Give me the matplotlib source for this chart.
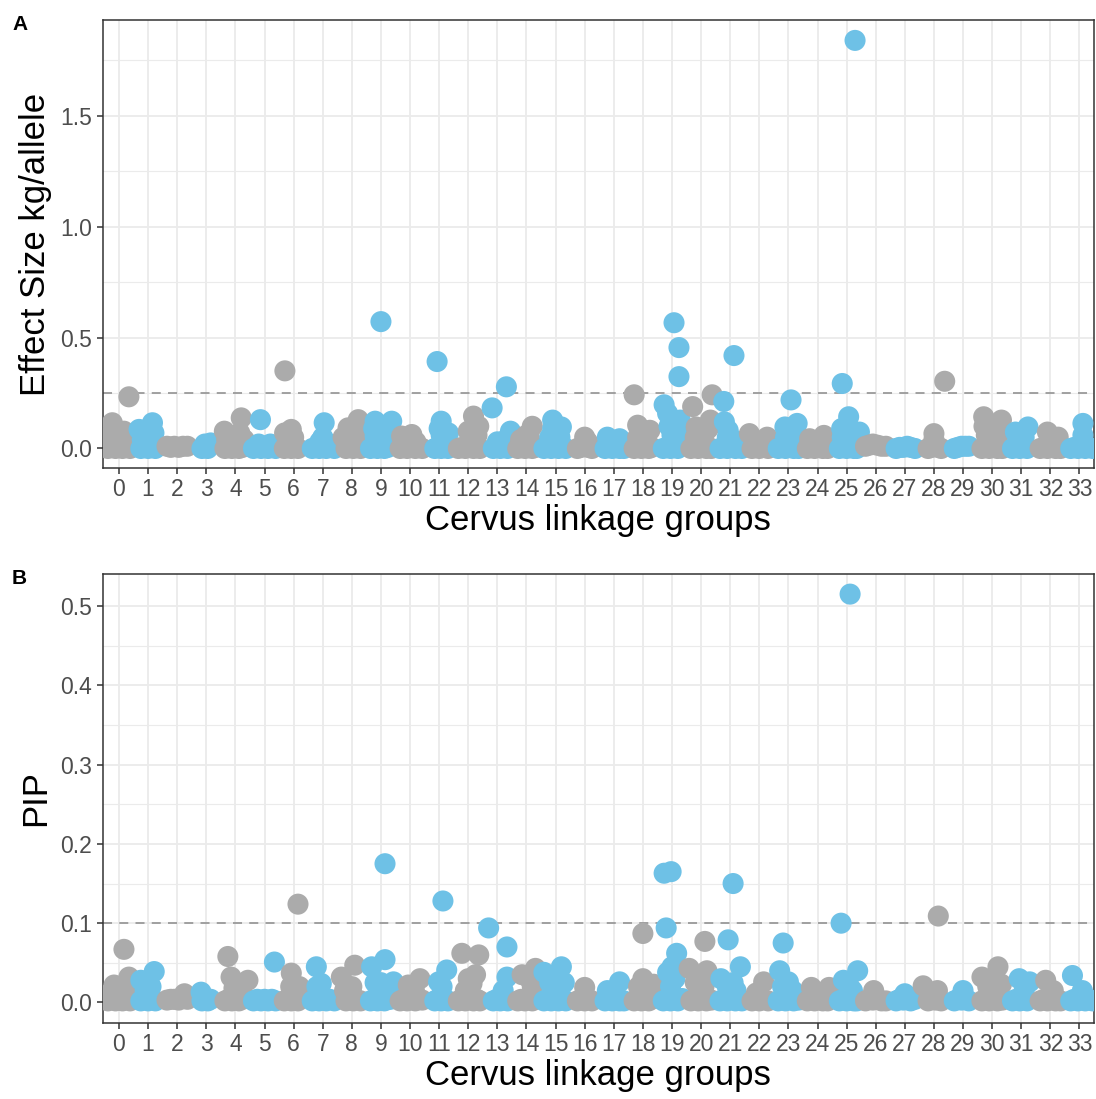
import matplotlib.pyplot as plt
from matplotlib.ticker import MultipleLocator

plt.rcParams['font.family'] = ['Liberation Sans', 'DejaVu Sans']

groups = list(range(34))
grey = '#ABABAB'
blue = '#6EC1E6'

# effect size per linkage group: (position inside group, kg/allele)
effect = [
    [(-0.38, 0), (-0.25, 0.005), (-0.12, 0), (0, 0.01), (0.12, 0), (0.25, 0.005), (0.38, 0),
     (-0.3, 0.04), (-0.25, 0.07), (0.1, 0.04), (0.25, 0.03), (-0.23, 0.116), (0.17, 0.078), (0.34, 0.233)],
    [(-0.25, 0), (-0.12, 0.005), (0, 0), (0.12, 0.01), (0.25, 0),
     (-0.2, 0.04), (0.1, 0.05), (0.2, 0.07), (0.15, 0.116), (-0.31, 0.086)],
    [(-0.35, 0.01), (-0.22, 0.005), (-0.1, 0.01), (0.05, 0.005), (0.2, 0.01), (0.35, 0.01)],
    [(-0.15, 0), (-0.05, 0.02), (0.05, 0), (0.15, 0.025)],
    [(-0.36, 0), (-0.24, 0.005), (-0.12, 0), (0, 0.01), (0.12, 0), (0.24, 0.005), (0.32, 0.01),
     (-0.3, 0.04), (0, 0.04), (0.15, 0.07), (0.3, 0.04), (0.2, 0.138), (-0.38, 0.078)],
    [(-0.38, 0), (-0.25, 0.005), (-0.12, 0), (0, 0.01), (0.12, 0), (0.25, 0.005), (0.38, 0),
     (0.2, 0.02), (-0.2, 0.02), (-0.14, 0.13)],
    [(-0.32, 0), (-0.2, 0.005), (-0.08, 0), (0.05, 0.01), (0.15, 0),
     (-0.2, 0.04), (0, 0.05), (-0.08, 0.086), (-0.31, 0.07), (-0.3, 0.35)],
    [(-0.36, 0), (-0.24, 0.005), (-0.12, 0), (0, 0.01), (0.12, 0), (0.24, 0.005), (0.4, 0),
     (0, 0.05), (-0.1, 0.03), (0.1, 0.03), (0.05, 0.116)],
    [(-0.2, 0), (-0.08, 0.005), (0.05, 0), (0.15, 0.01), (0.3, 0),
     (-0.3, 0.05), (0.1, 0.05), (0.2, 0.08), (-0.1, 0.06), (0.22, 0.13), (-0.13, 0.093)],
    [(-0.36, 0), (-0.24, 0.005), (-0.12, 0), (0, 0.01), (0.12, 0), (0.24, 0.005), (0.32, 0.02),
     (-0.2, 0.056), (-0.25, 0.09), (0.3, 0.06), (0.1, 0.04), (-0.1, 0.04), (-0.2, 0.123), (0.37, 0.123), (0, 0.572)],
    [(-0.34, 0), (-0.22, 0.005), (-0.1, 0), (0.05, 0.01), (0.18, 0), (0.3, 0.005), (0.42, 0),
     (-0.1, 0.04), (0.06, 0.063), (-0.29, 0.056), (0.2, 0.03)],
    [(-0.15, 0), (-0.05, 0.005), (0.07, 0), (0.18, 0.01), (0.3, 0),
     (0.07, 0.06), (0, 0.09), (0.2, 0.04), (0.07, 0.123), (0.32, 0.07), (-0.07, 0.392)],
    [(-0.34, 0), (-0.22, 0.005), (-0.1, 0), (0.05, 0.01), (0.18, 0), (0.3, 0.005), (0.4, 0),
     (0.1, 0.04), (0, 0.078), (0.2, 0.1), (0.3, 0.06), (0.18, 0.146), (0.36, 0.1)],
    [(-0.14, 0), (-0.02, 0.005), (0.1, 0), (0.22, 0.01), (0.35, 0),
     (0, 0.03), (0.3, 0.04), (0.45, 0.078), (-0.18, 0.183), (0.31, 0.278)],
    [(-0.3, 0), (-0.18, 0.005), (-0.05, 0), (0.08, 0.01), (0.2, 0), (0.3, 0.005),
     (0, 0.06), (0.1, 0.05), (0.2, 0.1), (-0.2, 0.04)],
    [(-0.4, 0), (-0.28, 0.005), (-0.15, 0), (-0.02, 0.01), (0.1, 0), (0.22, 0.005), (0.35, 0),
     (0, 0.05), (-0.2, 0.05), (0.15, 0.05), (-0.1, 0.09), (-0.1, 0.128), (0.2, 0.097)],
    [(-0.25, 0), (-0.12, 0.005), (0, 0.01), (0.12, 0.005), (0.25, 0), (0, 0.051), (0.1, 0.03)],
    [(-0.3, 0), (-0.18, 0.005), (-0.05, 0), (0.08, 0.01), (0.2, 0), (0.35, 0),
     (-0.22, 0.051), (0.2, 0.044), (0, 0.03)],
    [(-0.3, 0), (-0.18, 0.005), (-0.05, 0), (0.08, 0.01), (0.2, 0), (0.3, 0.005),
     (-0.18, 0.05), (0.1, 0.05), (-0.05, 0.07), (0.24, 0.082), (-0.18, 0.105), (-0.3, 0.242)],
    [(-0.3, 0), (-0.18, 0.005), (-0.05, 0), (0.08, 0.01), (0.2, 0), (0.35, 0.02),
     (0, 0.06), (-0.1, 0.1), (0.15, 0.08), (0.25, 0.05), (0.28, 0.128), (-0.15, 0.158), (-0.27, 0.197),
     (0.24, 0.324), (0.24, 0.455), (0.07, 0.567)],
    [(-0.35, 0), (-0.22, 0.005), (-0.1, 0), (0.05, 0.01), (0.18, 0), (0.35, 0),
     (-0.2, 0.05), (0.1, 0.06), (0.25, 0.09), (0, 0.08), (-0.17, 0.097), (0.32, 0.128), (-0.29, 0.189), (0.38, 0.242)],
    [(-0.35, 0), (-0.22, 0.005), (-0.1, 0), (0.05, 0.01), (0.18, 0), (0.3, 0.005), (0.4, 0),
     (-0.1, 0.05), (0.1, 0.04), (0.2, 0.03), (-0.07, 0.082), (-0.2, 0.12), (-0.22, 0.212), (0.13, 0.419)],
    [(-0.25, 0), (-0.12, 0.005), (0, 0), (0.12, 0.01), (0.3, 0), (-0.34, 0.067), (0.27, 0.051), (0, 0.03)],
    [(-0.35, 0), (-0.22, 0.005), (-0.1, 0), (0.05, 0.01), (0.18, 0), (0.35, 0),
     (-0.1, 0.05), (0.15, 0.06), (0.25, 0.07), (-0.12, 0.097), (0.3, 0.113), (0.09, 0.219)],
    [(-0.35, 0), (-0.22, 0.005), (-0.1, 0), (0.05, 0.01), (0.18, 0), (0.35, 0),
     (0.22, 0.059), (-0.27, 0.044), (0, 0.03)],
    [(-0.25, 0), (-0.12, 0.005), (0, 0), (0.12, 0.01), (0.25, 0), (0.35, 0),
     (0, 0.05), (0.07, 0.09), (-0.15, 0.05), (0.3, 0.04), (-0.17, 0.09), (0.44, 0.074), (0.07, 0.143),
     (-0.15, 0.293), (0.29, 1.84)],
    [(-0.35, 0.01), (-0.22, 0.015), (-0.1, 0.02), (0.05, 0.015), (0.2, 0.01), (0.35, 0.01)],
    [(-0.3, 0), (-0.18, 0.005), (-0.05, 0.005), (0.08, 0.01), (0.2, 0.005), (0.35, 0)],
    [(-0.2, 0), (-0.08, 0.005), (0.05, 0.01), (0.15, 0.005), (0.25, 0), (0, 0.04), (0, 0.067), (0.37, 0.303)],
    [(-0.3, 0), (-0.18, 0.005), (-0.05, 0.01), (0.08, 0.01), (0.2, 0.01)],
    [(-0.35, 0), (-0.22, 0.005), (-0.1, 0), (0.05, 0.01), (0.18, 0), (0.35, 0),
     (0, 0.05), (-0.2, 0.06), (0.2, 0.06), (-0.28, 0.1), (0.3, 0.09), (-0.05, 0.09), (-0.29, 0.143), (0.32, 0.128)],
    [(-0.3, 0), (-0.18, 0.005), (-0.05, 0), (0.08, 0.01), (0.2, 0), (-0.2, 0.074), (0.23, 0.097), (0.1, 0.05)],
    [(-0.35, 0), (-0.22, 0.005), (-0.1, 0), (0.05, 0.01), (0.18, 0), (0.35, 0),
     (-0.1, 0.074), (0.27, 0.051), (0, 0.04)],
    [(-0.3, 0), (-0.18, 0.005), (-0.05, 0), (0.08, 0.01), (0.2, 0), (0.32, 0.005), (0.45, 0),
     (0.12, 0.06), (0.12, 0.113)],
]

# posterior inclusion probability per linkage group: (position inside group, PIP)
pip = [
    [(-0.38, 0.002), (-0.25, 0.004), (-0.12, 0.002), (0, 0.004), (0.12, 0.002), (0.25, 0.004), (0.38, 0.002),
     (-0.17, 0.022), (0.34, 0.032), (0.25, 0.015), (-0.3, 0.012), (0.17, 0.067)],
    [(-0.25, 0.002), (-0.12, 0.004), (0, 0.002), (0.12, 0.004), (0.25, 0.002),
     (-0.25, 0.028), (0.21, 0.039), (0.1, 0.02), (-0.1, 0.015)],
    [(-0.35, 0.003), (-0.22, 0.004), (-0.1, 0.004), (0.05, 0.003), (0.2, 0.006), (0.35, 0.004), (0.25, 0.011)],
    [(-0.15, 0.002), (-0.05, 0.004), (0.05, 0.002), (0.15, 0.004), (-0.18, 0.013)],
    [(-0.36, 0.002), (-0.24, 0.004), (-0.12, 0.002), (0, 0.004), (0.12, 0.002), (0.24, 0.004), (0.32, 0.006),
     (0.43, 0.028), (-0.15, 0.032), (0.1, 0.015), (-0.05, 0.018), (-0.26, 0.058)],
    [(-0.38, 0.002), (-0.25, 0.004), (-0.12, 0.002), (0, 0.004), (0.12, 0.002), (0.25, 0.004), (0.38, 0.002),
     (0.34, 0.051)],
    [(-0.32, 0.002), (-0.2, 0.004), (-0.08, 0.002), (0.05, 0.004), (0.15, 0.002),
     (0.2, 0.02), (-0.1, 0.02), (-0.08, 0.037), (0.15, 0.124)],
    [(-0.36, 0.002), (-0.24, 0.004), (-0.12, 0.002), (0, 0.004), (0.12, 0.002), (0.24, 0.004), (0.4, 0.002),
     (-0.05, 0.024), (-0.2, 0.02), (-0.22, 0.045)],
    [(-0.2, 0.002), (-0.08, 0.004), (0.05, 0.002), (0.15, 0.004), (0.3, 0.002),
     (0, 0.02), (-0.25, 0.015), (-0.36, 0.032), (0.1, 0.047)],
    [(-0.36, 0.002), (-0.24, 0.004), (-0.12, 0.002), (0, 0.004), (0.12, 0.002), (0.24, 0.004), (0.32, 0.004),
     (0, 0.025), (-0.2, 0.025), (0.25, 0.02), (0.43, 0.026), (-0.32, 0.045), (0.14, 0.054), (0.14, 0.175)],
    [(-0.34, 0.002), (-0.22, 0.004), (-0.1, 0.002), (0.05, 0.004), (0.18, 0.002), (0.3, 0.004), (0.42, 0.003),
     (0.15, 0.015), (-0.06, 0.022), (0.34, 0.03)],
    [(-0.15, 0.002), (-0.05, 0.004), (0.07, 0.002), (0.18, 0.004), (0.3, 0.002),
     (0.1, 0.02), (-0.02, 0.026), (0.26, 0.041), (0.13, 0.128)],
    [(-0.34, 0.002), (-0.22, 0.004), (-0.1, 0.002), (0.05, 0.004), (0.18, 0.002), (0.3, 0.004), (0.4, 0.002),
     (-0.1, 0.015), (0.13, 0.024), (0, 0.03), (0.25, 0.035), (-0.22, 0.062), (0.36, 0.06)],
    [(-0.14, 0.002), (-0.02, 0.004), (0.1, 0.002), (0.22, 0.004), (0.35, 0.002),
     (0.2, 0.015), (0.33, 0.032), (0.33, 0.07), (-0.3, 0.094)],
    [(-0.3, 0.002), (-0.18, 0.004), (-0.05, 0.002), (0.08, 0.004), (0.2, 0.002), (0.3, 0.004),
     (0.2, 0.02), (0.1, 0.03), (-0.15, 0.035), (0.31, 0.043)],
    [(-0.4, 0.002), (-0.28, 0.004), (-0.15, 0.002), (-0.02, 0.004), (0.1, 0.002), (0.22, 0.004), (0.35, 0.002),
     (-0.2, 0.025), (0.1, 0.02), (0.3, 0.025), (0, 0.03), (-0.4, 0.038), (0.2, 0.045)],
    [(-0.25, 0.002), (-0.12, 0.004), (0, 0.002), (0.12, 0.004), (0.25, 0.002), (0, 0.019)],
    [(-0.3, 0.002), (-0.18, 0.004), (-0.05, 0.002), (0.08, 0.004), (0.2, 0.002), (0.35, 0.002),
     (0.05, 0.012), (-0.22, 0.015), (0.2, 0.026)],
    [(-0.3, 0.002), (-0.18, 0.004), (-0.05, 0.002), (0.08, 0.004), (0.2, 0.002), (0.3, 0.004),
     (-0.15, 0.02), (0.15, 0.02), (0.37, 0.023), (0, 0.03), (0, 0.087)],
    [(-0.3, 0.002), (-0.18, 0.004), (-0.05, 0.002), (0.08, 0.004), (0.2, 0.002), (0.35, 0.005),
     (-0.05, 0.02), (0.1, 0.03), (0, 0.045), (-0.15, 0.038), (0.16, 0.062),
     (-0.2, 0.094), (-0.27, 0.163), (-0.03, 0.165)],
    [(-0.35, 0.002), (-0.22, 0.004), (-0.1, 0.002), (0.05, 0.004), (0.18, 0.002), (0.35, 0.003),
     (0.1, 0.02), (0, 0.03), (-0.2, 0.025), (-0.41, 0.043), (0.2, 0.04), (0.13, 0.077)],
    [(-0.35, 0.002), (-0.22, 0.004), (-0.1, 0.002), (0.05, 0.004), (0.18, 0.002), (0.3, 0.004), (0.4, 0.002),
     (-0.1, 0.02), (0.1, 0.025), (0.2, 0.015), (-0.32, 0.03), (0.35, 0.045), (-0.07, 0.079), (0.1, 0.15)],
    [(-0.25, 0.002), (-0.12, 0.004), (0, 0.002), (0.12, 0.004), (0.3, 0.002), (-0.1, 0.012), (0.15, 0.026)],
    [(-0.35, 0.002), (-0.22, 0.004), (-0.1, 0.002), (0.05, 0.004), (0.18, 0.002), (0.35, 0.003),
     (-0.2, 0.02), (0.15, 0.015), (0, 0.026), (-0.3, 0.04), (-0.18, 0.075)],
    [(-0.35, 0.002), (-0.22, 0.004), (-0.1, 0.002), (0.05, 0.004), (0.18, 0.002), (0.35, 0.002),
     (0.1, 0.012), (-0.21, 0.019), (0.4, 0.019)],
    [(-0.25, 0.002), (-0.12, 0.004), (0, 0.002), (0.12, 0.004), (0.25, 0.002), (0.35, 0.002),
     (0.1, 0.02), (0.2, 0.015), (-0.11, 0.028), (0.38, 0.04), (-0.19, 0.1), (0.12, 0.515)],
    [(-0.35, 0.002), (-0.22, 0.004), (-0.1, 0.003), (0.05, 0.004), (0.2, 0.002), (0.35, 0.002), (-0.07, 0.015)],
    [(-0.3, 0.002), (-0.18, 0.004), (-0.05, 0.003), (0.08, 0.004), (0.2, 0.002), (0.35, 0.004), (0, 0.011)],
    [(-0.2, 0.002), (-0.08, 0.004), (0.05, 0.003), (0.15, 0.004), (0.25, 0.002),
     (-0.37, 0.021), (0.12, 0.015), (0.15, 0.109)],
    [(-0.3, 0.002), (-0.18, 0.004), (-0.05, 0.003), (0.08, 0.004), (0.2, 0.002), (0, 0.015)],
    [(-0.35, 0.002), (-0.22, 0.004), (-0.1, 0.002), (0.05, 0.004), (0.18, 0.002), (0.35, 0.003),
     (-0.15, 0.02), (0, 0.025), (0.1, 0.03), (0.32, 0.023), (-0.35, 0.032), (0.2, 0.045)],
    [(-0.3, 0.002), (-0.18, 0.004), (-0.05, 0.002), (0.08, 0.004), (0.2, 0.002),
     (0.1, 0.015), (0.29, 0.026), (-0.07, 0.03)],
    [(-0.35, 0.002), (-0.22, 0.004), (-0.1, 0.002), (0.05, 0.004), (0.18, 0.002), (0.35, 0.002),
     (0.1, 0.015), (-0.16, 0.028)],
    [(-0.3, 0.002), (-0.18, 0.004), (-0.05, 0.002), (0.08, 0.004), (0.2, 0.002), (0.32, 0.004), (0.45, 0.002),
     (0.1, 0.015), (-0.24, 0.034)],
]

effect_cut = 0.25
pip_cut = 0.1


def flatten(per_group):
    xs, ys, cs = [], [], []
    for g, pts in zip(groups, per_group):
        for off, v in pts:
            xs.append(g + off)
            ys.append(v)
            cs.append(grey if g % 2 == 0 else blue)
    return xs, ys, cs


def panel(ax, per_group, cut, ylim, major, minor, ylabel):
    xs, ys, cs = flatten(per_group)
    ax.scatter(xs, ys, s=230, c=cs, linewidths=0, zorder=3)
    ax.axhline(cut, color='#9A9A9A', lw=1.3, ls=(0, (5, 4)), zorder=2)
    ax.set_xlim(-0.56, 33.5)
    ax.set_ylim(*ylim)
    ax.set_xticks(groups)
    ax.set_xticklabels([str(g) for g in groups])
    ax.yaxis.set_major_locator(MultipleLocator(major))
    ax.yaxis.set_minor_locator(MultipleLocator(minor))
    ax.yaxis.set_major_formatter(plt.FormatStrFormatter('%.1f'))
    ax.grid(True, which='major', color='#EBEBEB', lw=1.3, zorder=0)
    ax.grid(True, which='minor', axis='y', color='#EBEBEB', lw=0.8, zorder=0)
    ax.set_axisbelow(True)
    for sp in ax.spines.values():
        sp.set_color('#333333')
        sp.set_linewidth(1.1)
    ax.tick_params(which='major', length=4.5, width=1.1, color='#333333',
                   labelcolor='#4D4D4D', labelsize=16.5, pad=3)
    ax.tick_params(which='minor', length=0)
    ax.set_xlabel('Cervus linkage groups', fontsize=25, labelpad=2)
    ax.set_ylabel(ylabel, fontsize=25, labelpad=6)


fig = plt.figure(figsize=(10.96, 10.99), dpi=100)
ax_a = fig.add_axes([102.7 / 1096, 1 - 468 / 1099, (1094 - 102.7) / 1096, 448 / 1099])
ax_b = fig.add_axes([102.7 / 1096, 1 - 1022.7 / 1099, (1094 - 102.7) / 1096, 449.2 / 1099])

panel(ax_a, effect, effect_cut, (-0.088, 1.932), 0.5, 0.25, 'Effect Size kg/allele')
panel(ax_b, pip, pip_cut, (-0.0255, 0.541), 0.1, 0.05, 'PIP')

fig.text(12 / 1096, 1 - 30 / 1099, 'A', fontsize=15, fontweight='bold')
fig.text(12 / 1096, 1 - 584 / 1099, 'B', fontsize=15, fontweight='bold')

fig.savefig('out.png', dpi=100)
